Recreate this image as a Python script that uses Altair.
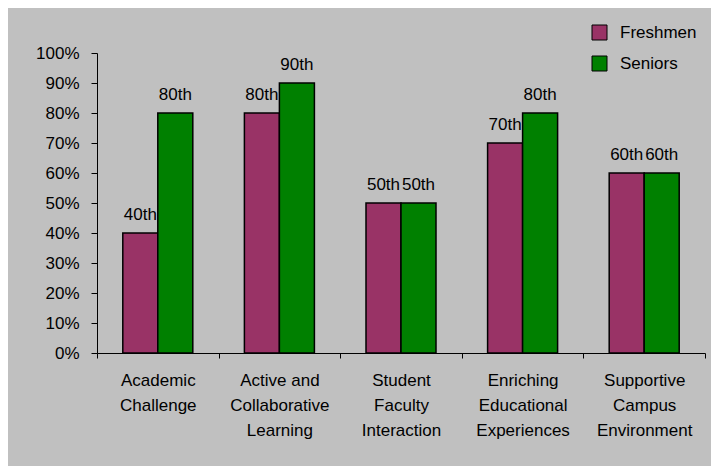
import altair as alt
import pandas as pd

categories = [
    "Academic\nChallenge",
    "Active and\nCollaborative\nLearning",
    "Student\nFaculty\nInteraction",
    "Enriching\nEducational\nExperiences",
    "Supportive\nCampus\nEnvironment",
]
freshmen = [40, 80, 50, 70, 60]
seniors = [80, 90, 50, 80, 60]
freshmen_labels = ["40th", "80th", "50th", "70th", "60th"]
seniors_labels = ["80th", "90th", "50th", "80th", "60th"]
series = ["Freshmen", "Seniors"]
colors = ["#993366", "#008000"]
y_ticks = [0, 10, 20, 30, 40, 50, 60, 70, 80, 90, 100]

rows = []
for c, f, s, fl, sl in zip(categories, freshmen, seniors, freshmen_labels, seniors_labels):
    rows.append({"cat": c, "group": "Freshmen", "value": f, "label": fl})
    rows.append({"cat": c, "group": "Seniors", "value": s, "label": sl})
df = pd.DataFrame(rows)

FONT = "Liberation Sans"

x = alt.X(
    "cat:N",
    sort=categories,
    scale=alt.Scale(paddingInner=0, paddingOuter=0),
    axis=alt.Axis(
        title=None,
        labelAngle=0,
        labelExpr="split(datum.label, '\\n')",
        labelLineHeight=25,
        labelPadding=14,
        labelBaseline="top",
        tickBand="extent",
        tickSize=5,
        tickColor="black",
        domainColor="black",
        labelColor="black",
        labelFont=FONT,
        labelFontSize=17,
    ),
)
xoff = alt.XOffset(
    "group:N",
    sort=series,
    scale=alt.Scale(paddingInner=0, paddingOuter=0.737),
)
y = alt.Y(
    "value:Q",
    scale=alt.Scale(domain=[0, 100]),
    axis=alt.Axis(
        title=None,
        values=y_ticks,
        labelExpr="datum.value + '%'",
        grid=False,
        tickSize=6,
        tickColor="black",
        domainColor="black",
        labelColor="black",
        labelFont=FONT,
        labelFontSize=17,
        labelPadding=12,
    ),
)

bars = alt.Chart(df).mark_bar(stroke="black", strokeWidth=1.5).encode(
    x=x,
    xOffset=xoff,
    y=y,
    color=alt.Color(
        "group:N",
        sort=series,
        scale=alt.Scale(domain=series, range=colors),
        legend=alt.Legend(
            title=None,
            orient="none",
            legendX=494,
            legendY=-29,
            symbolType="square",
            symbolSize=225,
            symbolStrokeColor="black",
            symbolStrokeWidth=1,
            symbolOpacity=1,
            labelFont=FONT,
            labelFontSize=17,
            labelColor="black",
            labelOffset=12,
            rowPadding=12,
            padding=0,
        ),
    ),
)

texts = alt.Chart(df).mark_text(
    dy=-13, baseline="alphabetic", font=FONT, fontSize=17, color="black"
).encode(x=x, xOffset=xoff, y=y, text="label:N")

chart = (
    alt.layer(bars, texts)
    .properties(
        width=608,
        height=300,
        background="#c0c0c0",
        padding={"left": 89, "top": 45, "right": 6, "bottom": 113},
        autosize=alt.AutoSizeParams(type="none"),
    )
    .configure_view(stroke=None)
)

chart.save("out.html", embed_options={"renderer": "svg", "actions": False})
